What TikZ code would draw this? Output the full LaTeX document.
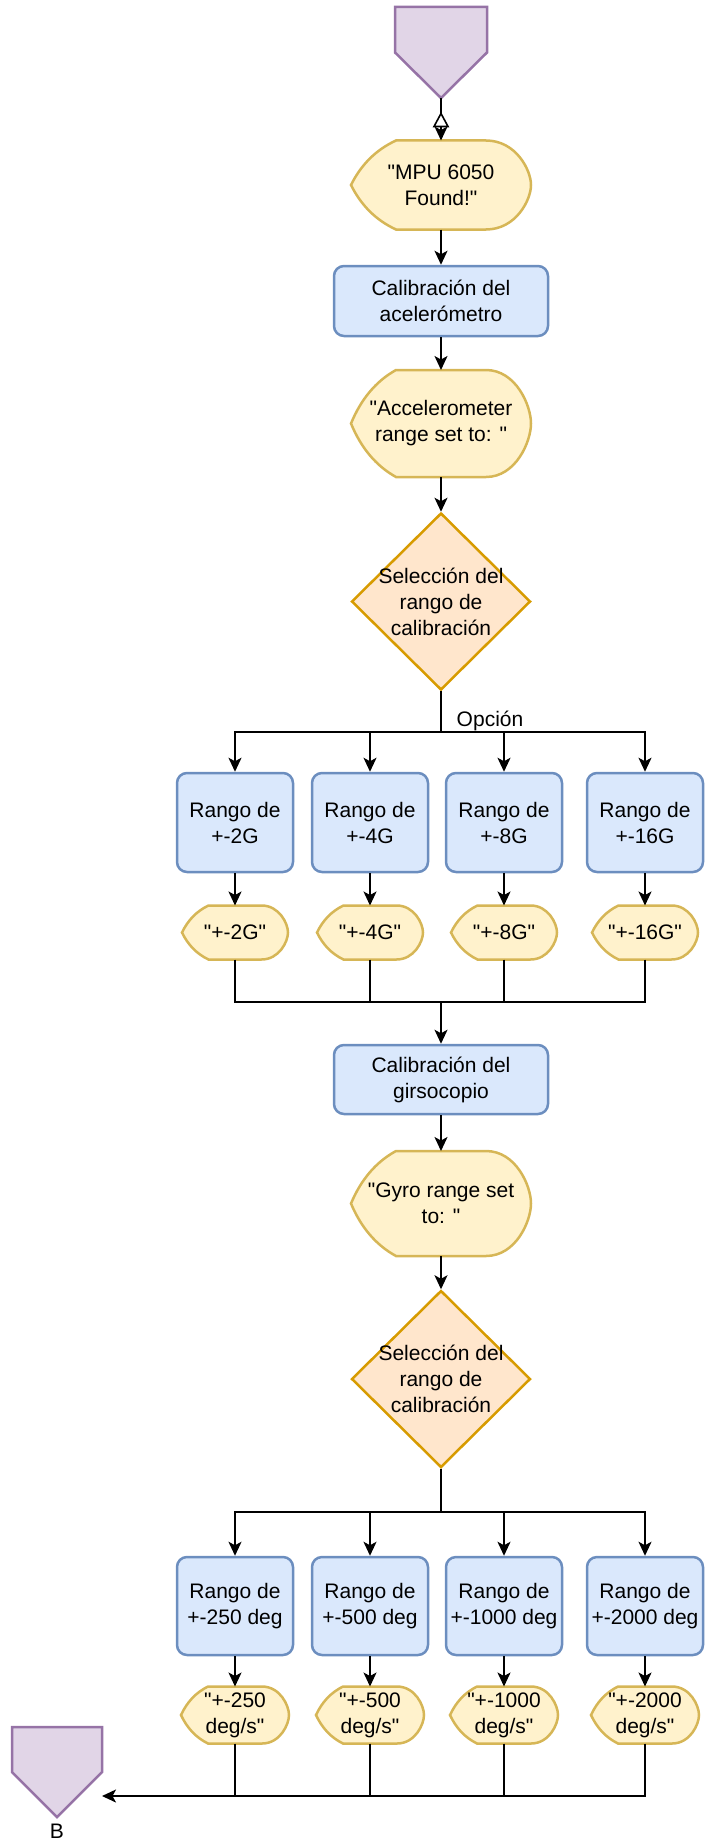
\documentclass[tikz,border=0pt]{standalone}
\usepackage{fontspec}
\setmainfont{Liberation Sans}[Ligatures=TeXOff]
\usetikzlibrary{arrows.meta,shapes.geometric,calc}

\definecolor{procfill}{HTML}{DAE8FC}
\definecolor{procline}{HTML}{6C8EBF}
\definecolor{dispfill}{HTML}{FFF2CC}
\definecolor{displine}{HTML}{D6B656}
\definecolor{decfill}{HTML}{FFE6CC}
\definecolor{decline}{HTML}{D79B00}
\definecolor{conffill}{HTML}{E1D5E7}
\definecolor{confline}{HTML}{9673A6}

\tikzset{
  txt/.style={font=\fontsize{21}{26}\selectfont, align=center, text=black},
  proc/.style={txt, draw=procline, fill=procfill, line width=2.5pt, rounded corners=10pt, inner sep=0pt},
  dispbox/.style={txt, inner sep=0pt, outer sep=0pt},
  dispedge/.style={draw=displine, fill=dispfill, line width=2.5pt},
  dec/.style={diamond, draw=decline, fill=decfill, line width=2.5pt, inner sep=0pt,
              minimum width=179pt, minimum height=177pt},
  conn/.style={inner sep=0pt, outer sep=0pt},
  connedge/.style={draw=confline, fill=conffill, line width=2.5pt, line join=miter},
  wire/.style={line width=1.6pt, draw=black},
  arr/.style={wire, -{Stealth[length=14pt, width=13pt, inset=3.5pt]}},
}

% display symbol: pointed left end, rounded right end, text node on top
\newcommand\dispat[6]{%
  \pgfmathsetmacro\dhw{#4/2}\pgfmathsetmacro\dhh{#5/2}\pgfmathsetmacro\ddx{#4/4}%
  \begin{scope}[shift={(#2,#3)}]
    \path[dispedge] (-\dhw,0)
      .. controls ({-\dhw+0.22*\ddx},{-0.45*\dhh}) and ({-\dhw+0.55*\ddx},{-0.79*\dhh}) .. ({-\dhw+\ddx},-\dhh)
      -- ({\dhw-\ddx},-\dhh)
      .. controls ({\dhw-\ddx/3},-\dhh) and (\dhw,{-\dhh/3}) .. (\dhw,0)
      .. controls (\dhw,{\dhh/3}) and ({\dhw-\ddx/3},\dhh) .. ({\dhw-\ddx},\dhh)
      -- ({-\dhw+\ddx},\dhh)
      .. controls ({-\dhw+0.55*\ddx},{0.79*\dhh}) and ({-\dhw+0.22*\ddx},{0.45*\dhh}) .. cycle;
  \end{scope}
  \node[dispbox, minimum width=#4pt, minimum height=#5pt] (#1) at (#2,#3) {#6};}

% off-page connector: square body with a pointed bottom
\newcommand\offpage[5]{%
  \node[conn, minimum width=#4pt, minimum height=#5pt] (#1) at (#2,#3) {};
  \path[connedge] (#1.north west) -- (#1.north east) -- (#1.east) -- (#1.south) -- (#1.west) -- cycle;}

\begin{document}
\begin{tikzpicture}[x=1pt, y=-1pt]
\useasboundingbox (0,0) rectangle (705,1841);

% ---------- accelerometer part ----------
\offpage{cA}{441}{52.5}{92}{91}
\dispat{d1}{441}{185}{180}{89}{"MPU 6050\\Found!"}
\node[proc, minimum width=214pt, minimum height=70pt] (p1) at (441,301) {Calibración del\\acelerómetro};
\dispat{d2}{441}{423.5}{180}{107}{"Accelerometer\\range set to: "}
\node[dec, label={[txt]center:{Selección del\\rango de\\calibración}}] (s1) at (441,601.5) {};
\node[txt] (opt) at (490,721) {Opción};

\foreach \n/\x/\t in {r1/235/+-2G, r2/370/+-4G, r3/504/+-8G, r4/645/+-16G}{
  \node[proc, minimum width=116pt, minimum height=99pt] (\n) at (\x,822.5) {Rango de\\\t};}
\foreach \n/\x/\t in {a1/235/+-2G, a2/370/+-4G, a3/504/+-8G, a4/645/+-16G}{
  \dispat{\n}{\x}{932.5}{106}{54}{"\t"}}

% ---------- gyroscope part ----------
\node[proc, minimum width=214pt, minimum height=69pt] (p2) at (441,1079.5) {Calibración del\\girsocopio};
\dispat{d3}{441}{1203.5}{180}{105}{"Gyro range set\\to: "}
\node[dec, label={[txt]center:{Selección del\\rango de\\calibración}}] (s2) at (441,1379) {};

\foreach \n/\x/\t in {q1/235/+-250 deg, q2/370/+-500 deg, q3/504/+-1000 deg, q4/645/+-2000 deg}{
  \node[proc, minimum width=116pt, minimum height=98pt] (\n) at (\x,1606) {Rango de\\\t};}
\foreach \n/\x/\t in {e1/235/+-250, e2/370/+-500, e3/504/+-1000, e4/645/+-2000}{
  \dispat{\n}{\x}{1715}{108}{57}{"\t\\deg/s"}}

\offpage{cB}{57}{1772}{90}{90}
\node[txt] (lblB) at (57,1831) {B};

% ---------- connectors ----------
\draw[arr] (cA.south) -- (d1.north);
\draw[wire, fill=white] ($(d1.north)+(0,-27)$) -- ($(d1.north)+(7,-14)$) -- ($(d1.north)+(-7,-14)$) -- cycle;
\draw[arr] (d1.south) -- (p1.north);
\draw[arr] (p1.south) -- (d2.north);
\draw[arr] (d2.south) -- (s1.north);

\coordinate (b1) at (441,732);
\foreach \n in {r1,r2,r3,r4}{\draw[arr] (s1.south) -- (b1) -| (\n.north);}
\foreach \n/\m in {r1/a1,r2/a2,r3/a3,r4/a4}{\draw[arr] (\n.south) -- (\m.north);}

\coordinate (m1) at (441,1002);
\foreach \m in {a1,a2,a3,a4}{\draw[wire] (\m.south) |- (m1);}
\draw[arr] (m1) -- (p2.north);
\draw[arr] (p2.south) -- (d3.north);
\draw[arr] (d3.south) -- (s2.north);

\coordinate (b2) at (441,1512);
\foreach \n in {q1,q2,q3,q4}{\draw[arr] (s2.south) -- (b2) -| (\n.north);}
\foreach \n/\m in {q1/e1,q2/e2,q3/e3,q4/e4}{\draw[arr] (\n.south) -- (\m.north);}

\coordinate (m2) at (441,1796);
\foreach \m in {e1,e2,e3}{\draw[wire] (\m.south) -- (\m.south |- m2);}
\draw[arr] (e4.south) |- (cB.east |- m2);
\end{tikzpicture}
\end{document}
